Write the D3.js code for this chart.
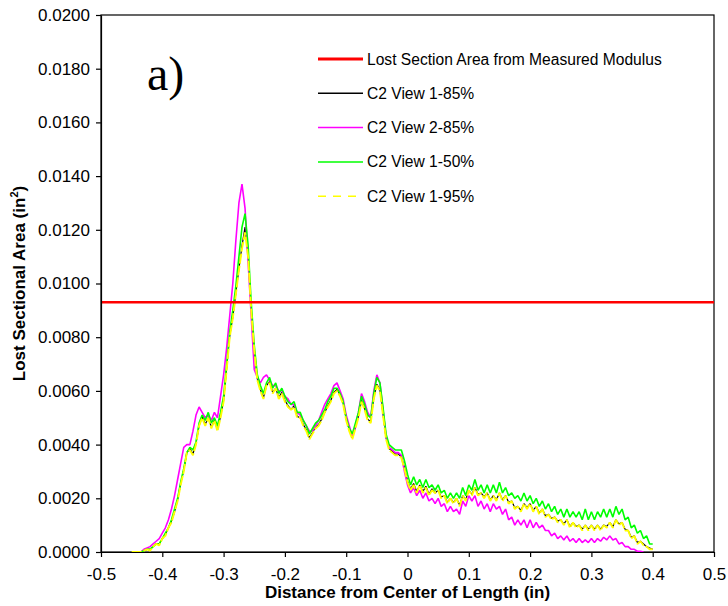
<!DOCTYPE html>
<html>
<head>
<meta charset="utf-8">
<script src="https://cdn.jsdelivr.net/npm/d3@7"></script>
<style>
body { margin: 0; background: #fff; }
</style>
</head>
<body>
<div class="chart"></div>
<script>
// distance from center of length (in): first sample and spacing
const startX = -0.45;
const stepX = 0.005;
// lost sectional area, in units of 1e-4 in^2
const unit = 1e-4;

const view1_85 = [
  0,0,0,0,0.5,1,1,2,3,3,
  5,6.5,9,11.5,15,19.5,25.5,30.5,37,38.5,
  36.5,40.5,47,50.5,47.5,50,46.5,49,45.5,50.5,
  56.5,68.5,80.5,87.5,96.5,105.5,114,121,110.5,90.5,
  75.5,64.5,60.5,57.5,62,63.5,59.5,61,57.5,59.5,
  56.5,54.5,53,54.5,50.5,50,47.5,45.5,42.5,44.5,
  46.5,47.5,49.5,52,54.5,56.5,59.5,60.5,58.5,55.5,
  49.5,45.5,42.5,46.5,50.5,56.5,53.5,49.5,48.5,57.5,
  62.5,60.5,51.5,42.5,38.5,37.5,36.5,36.5,35.5,31.5,
  26.5,23.5,25.5,22.5,25,22.5,24.5,21.5,23.5,22,
  23,20.5,21,18.5,20,18.5,20,17.5,21,19.5,
  23,21.5,24,21.5,22,20.5,22,19.5,21,19.5,
  22,19.5,21,18.5,19,16.5,17,15.5,18,16.5,
  18,15.5,17,14.5,16,13.5,14,12.5,13,11.5,
  12,10.5,12,9.5,11,9.5,10,8.5,10,8.5,
  10,8.5,10,8.5,10,9.5,11,9.5,12,10.5,
  11,8.5,8,5.5,6,3.5,4,3,2,1.5,1
];

const view2_85 = [
  0,0,0,0,1,1.5,2,3,4,5,
  7,9,12,16,21,27,33,39,40,40,
  45,51,54,52,50,51,49,52,50,58,
  66,76,88,100,116,130,137,128,108,88,
  68,65,63,65,66,64,62,62,60,60,
  58,57,55,55,52,51,49,47,45,45,
  47,49,52,55,57,59,62,63,60,57,
  51,47,43,47,52,59,56,52,50,60,
  66,63,53,43,39,38,37,37,36,30,
  25,22,24,21,23,20,22,19,20,18,
  20,17,18,15,17,15,16,14,19,17,
  21,19,21,17,19,16,18,15,18,16,
  17,14,16,12,13,10,12,10,12,9,
  12,9,11,9,10,8,8,6,7,5,
  6,4.5,6,4,5,3.5,5,3.5,4.5,3.5,
  5,3.5,5,4,5.5,4.5,6,4.5,5,3,
  3.5,2,2,1,1,0.3,0.3,0
];

const view1_50 = [
  0,0,0,0,0.5,1,1,2,3,3,
  5,7,9,12,16,20,26,31,37,39,
  38,41,48,51,49,52,48,50,47,52,
  58,70,82,90,99,110,121,126,114,93,
  77,66,62,59,63,65,61,63,59,61,
  58,56,55,56,52,52,49,47,44,46,
  48,49,51,53,56,58,61,61,59,56,
  50,46,44,48,52,58,55,51,50,59,
  65,63,54,44,40,39,38,38,38,34,
  29,25,28,25,27,24,27,24,25,23,
  25,22,23,20,22,20,22,20,24,21,
  25,23,27,23,25,22,25,22,25,22,
  26,22,24,21,22,20,21,19,22,19,
  21,18,20,17,19,16,18,15,17,14,
  16,13,16,13,15,13,15,12,16,12,
  15,12,15,13,16,13,16,13,17,14,
  16,12,13,9,10,7,8,5,6,3,3
];

const view1_95 = [
  0,0,0,0,0.5,1,0.5,2,3,2.5,
  5,6,9,11,15,19,25,30,37,38,
  36,40,47,50,47,50,46,49,45,50,
  56,68,80,87,96,105,113,119,110,90,
  75,64,60,57,62,63,59,61,57,59,
  56,54,53,54,50,50,47,45,42,44,
  46,47,49,52,54,56,59,60,58,55,
  49,45,42,46,50,56,53,49,48,57,
  62,60,51,42,38,37,36,36,35,31,
  26,23,25,22,25,22,24,21,23,22,
  23,20,21,18,20,18,20,17,21,19,
  23,21,24,21,22,20,22,19,21,19,
  22,19,21,18,19,16,17,15,18,16,
  18,15,17,14,16,13,14,12,13,11,
  12,10,12,9,11,9,10,8,10,8,
  10,8,10,8,10,9,11,9,12,10,
  11,8,8,5,6,3,4,2.5,2,1,1
];

const measuredLoss = 0.0093;

const xTicks = [-0.5, -0.4, -0.3, -0.2, -0.1, 0, 0.1, 0.2, 0.3, 0.4, 0.5];
const yTicks = [0, 0.002, 0.004, 0.006, 0.008, 0.010, 0.012, 0.014, 0.016, 0.018, 0.020];

const series = [
  { name: "C2 View 1-85%", values: view1_85, color: "#000000", dash: null, width: 1.2 },
  { name: "C2 View 2-85%", values: view2_85, color: "#ff00ff", dash: null, width: 1.6 },
  { name: "C2 View 1-50%", values: view1_50, color: "#00ff00", dash: null, width: 1.6 },
  { name: "C2 View 1-95%", values: view1_95, color: "#ffff00", dash: "10,2", width: 1.9 }
];

const sans = "'Liberation Sans', Arial, sans-serif";
const w = 728, h = 606;
const margin = { top: 15, right: 14, bottom: 54, left: 101 };

const x = d3.scaleLinear().domain([-0.5, 0.5]).range([margin.left, w - margin.right]);
const y = d3.scaleLinear().domain([0, 0.02]).range([h - margin.bottom, margin.top]);

const svg = d3.select(".chart").append("svg")
  .attr("width", w)
  .attr("height", h)
  .style("font-family", sans);

// plot frame
svg.append("rect")
  .attr("x", x(-0.5)).attr("y", y(0.02))
  .attr("width", x(0.5) - x(-0.5)).attr("height", y(0) - y(0.02))
  .attr("fill", "none").attr("stroke", "#000").attr("stroke-width", 1.2);

const line = d3.line()
  .x((d, i) => x(startX + i * stepX))
  .y(d => y(d * unit));

svg.append("g").selectAll("path")
  .data(series)
  .enter()
    .append("path")
    .attr("d", d => line(d.values))
    .attr("fill", "none")
    .attr("stroke", d => d.color)
    .attr("stroke-width", d => d.width)
    .attr("stroke-linejoin", "bevel")
    .attr("stroke-dasharray", d => d.dash);

// measured modulus line
svg.append("line")
  .attr("x1", x(-0.5)).attr("x2", x(0.5))
  .attr("y1", y(measuredLoss)).attr("y2", y(measuredLoss))
  .attr("stroke", "#ff0000").attr("stroke-width", 2.5);

// axes
const yAxis = svg.append("g")
  .attr("transform", "translate(" + x(-0.5) + ",0)")
  .call(d3.axisLeft(y).tickValues(yTicks).tickFormat(d => d.toFixed(4)).tickSize(5).tickSizeOuter(0).tickPadding(6));

const xAxis = svg.append("g")
  .attr("transform", "translate(0," + y(0) + ")")
  .call(d3.axisBottom(x).tickValues(xTicks).tickFormat(d => d === 0 ? "0" : d.toFixed(1)).tickSize(5).tickSizeOuter(0));

[yAxis, xAxis].forEach(a => {
  a.select(".domain").attr("stroke-width", 1.2);
  a.selectAll(".tick line").attr("stroke-width", 1.2);
  a.selectAll("text").attr("fill", "#000")
    .style("font-size", "17px").style("font-family", sans);
});
xAxis.selectAll("text").attr("y", 28).attr("dy", 0);

// axis titles
svg.append("text")
  .attr("x", (x(-0.5) + x(0.5)) / 2)
  .attr("y", 598)
  .attr("text-anchor", "middle")
  .style("font-size", "17px").style("font-weight", "bold")
  .text("Distance from Center of Length (in)");

const yTitle = svg.append("text")
  .attr("transform", "translate(25," + y(0.01) + ") rotate(-90)")
  .attr("text-anchor", "middle")
  .style("font-size", "17px").style("font-weight", "bold");
yTitle.append("tspan").text("Lost Sectional Area (in");
yTitle.append("tspan").attr("dy", -7).style("font-size", "11px").text("2");
yTitle.append("tspan").attr("dy", 7).text(")");

// panel label
svg.append("text")
  .attr("x", 147).attr("y", 90)
  .style("font-family", "'Liberation Serif', 'Times New Roman', serif")
  .style("font-size", "48px")
  .text("a)");

// legend
const legendItems = [{ name: "Lost Section Area from Measured Modulus", color: "#ff0000", dash: null, width: 3 }]
  .concat(series.map(s => ({ name: s.name, color: s.color, dash: s.dash ? "8,7" : null, width: 1.5 })));

const legend = svg.append("g").selectAll("g")
  .data(legendItems)
  .enter()
    .append("g")
    .attr("transform", (d, i) => "translate(318," + (59 + i * 34.3) + ")");

legend.append("line")
  .attr("x1", 0).attr("x2", 45)
  .attr("stroke", d => d.color)
  .attr("stroke-width", d => d.width)
  .attr("stroke-dasharray", d => d.dash);

legend.append("text")
  .attr("x", 49).attr("y", 5.5)
  .style("font-size", "15.6px")
  .text(d => d.name);
</script>
</body>
</html>
